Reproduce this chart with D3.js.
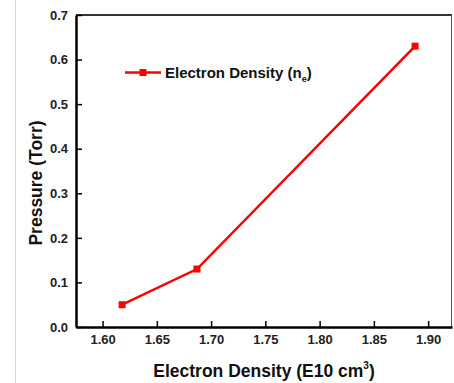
<!DOCTYPE html>
<html><head><meta charset="utf-8">
<script src="https://cdn.jsdelivr.net/npm/d3@7"></script>
<style>body{margin:0;background:#fff;} svg{display:block;font-family:Arial,"Liberation Sans",sans-serif;}</style>
</head><body>
<svg id="c" width="454" height="383"></svg>
<script>
const xValues = [1.618, 1.687, 1.888];
const yValues = [0.05, 0.13, 0.63];
const xTicks = [1.60, 1.65, 1.70, 1.75, 1.80, 1.85, 1.90];
const yTicks = [0.0, 0.1, 0.2, 0.3, 0.4, 0.5, 0.6, 0.7];
const seriesName = "Electron Density (n";
const xTitle = "Electron Density (E10 cm";
const yTitle = "Pressure (Torr)";

const svg = d3.select("#c");
const L = 76, T = 15, R = 452, B = 327;
const x = d3.scaleLinear().domain([1.5755, 1.922]).range([L, R]);
const y = d3.scaleLinear().domain([0, 0.7]).range([B, T]);

// left page line
svg.append("line").attr("x1", 15.5).attr("x2", 15.5).attr("y1", 0).attr("y2", 383)
  .attr("stroke", "#d8d8d8").attr("stroke-width", 1);

// frame top/right
svg.append("line").attr("x1", L).attr("x2", R).attr("y1", T).attr("y2", T)
  .attr("stroke", "#333").attr("stroke-width", 2);
svg.append("line").attr("x1", R - 0.5).attr("x2", R - 0.5).attr("y1", T).attr("y2", B)
  .attr("stroke", "#555").attr("stroke-width", 1);

// x axis
const xa = svg.append("g").attr("transform", `translate(0,${B})`)
  .call(d3.axisBottom(x).tickValues(xTicks).tickFormat(d3.format(".2f")).tickSizeInner(-6).tickSizeOuter(0).tickPadding(8));
xa.select(".domain").attr("stroke", "#000").attr("stroke-width", 2.5);
xa.selectAll(".tick line").attr("stroke", "#000").attr("stroke-width", 1.5);
xa.selectAll("text").attr("font-size", 13).attr("font-weight", "bold").attr("fill", "#222");

// y axis
const ya = svg.append("g").attr("transform", `translate(${L},0)`)
  .call(d3.axisLeft(y).tickValues(yTicks).tickFormat(d3.format(".1f")).tickSizeInner(-6).tickSizeOuter(0).tickPadding(8));
ya.select(".domain").attr("stroke", "#000").attr("stroke-width", 2.5);
ya.selectAll(".tick line").attr("stroke", "#000").attr("stroke-width", 1.5);
ya.selectAll("text").attr("font-size", 13).attr("font-weight", "bold").attr("fill", "#222");

// series
const pts = xValues.map((v, i) => [v, yValues[i]]);
svg.append("path").datum(pts)
  .attr("d", d3.line().x(d => x(d[0])).y(d => y(d[1])))
  .attr("fill", "none").attr("stroke", "#ff0000").attr("stroke-width", 2.5);
svg.selectAll("rect.m").data(pts).enter().append("rect").attr("class", "m")
  .attr("x", d => x(d[0]) - 3.5).attr("y", d => y(d[1]) - 3.5)
  .attr("width", 7).attr("height", 7).attr("fill", "#ff0000");

// legend
const ly = 72.5;
svg.append("line").attr("x1", 125).attr("x2", 161).attr("y1", ly).attr("y2", ly)
  .attr("stroke", "#ff0000").attr("stroke-width", 2.5);
svg.append("rect").attr("x", 139.5).attr("y", ly - 3.5).attr("width", 7).attr("height", 7).attr("fill", "#ff0000");
const lt = svg.append("text").attr("x", 165).attr("y", ly + 5)
  .attr("font-size", 15).attr("font-weight", "bold").attr("fill", "#111");
lt.append("tspan").text(seriesName);
lt.append("tspan").attr("font-size", 9).attr("dy", 4).text("e");
lt.append("tspan").attr("dy", -4).text(")");

// axis titles
const xt = svg.append("text").attr("x", 264).attr("y", 377).attr("text-anchor", "middle")
  .attr("font-size", 17.5).attr("font-weight", "bold").attr("fill", "#111");
xt.append("tspan").text(xTitle);
xt.append("tspan").attr("font-size", 10).attr("dy", -8).text("3");
xt.append("tspan").attr("dy", 8).text(")");

svg.append("text").attr("transform", `translate(42,${(T + B) / 2 + 12}) rotate(-90)`)
  .attr("text-anchor", "middle").attr("font-size", 17.5).attr("font-weight", "bold").attr("fill", "#111")
  .text(yTitle);
</script>
</body></html>
